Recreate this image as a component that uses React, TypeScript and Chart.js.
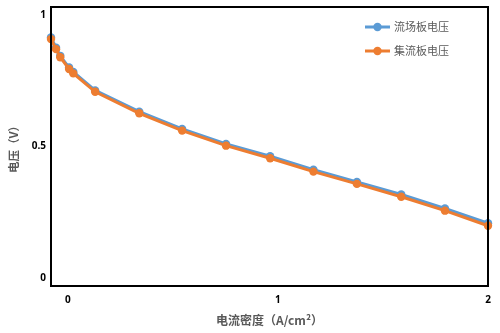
import React, { useEffect, useRef } from "react";
import { Chart, registerables } from "chart.js";

Chart.register(...registerables);

const xValues = [-0.08, -0.056, -0.036, 0.006, 0.026, 0.13, 0.34, 0.544, 0.753, 0.963, 1.169, 1.376, 1.587, 1.795, 2.0];
const flowFieldVoltage = [0.891, 0.854, 0.825, 0.783, 0.767, 0.701, 0.625, 0.563, 0.509, 0.465, 0.417, 0.373, 0.328, 0.278, 0.225];
const collectorVoltage = [0.885, 0.849, 0.82, 0.778, 0.762, 0.696, 0.619, 0.557, 0.503, 0.458, 0.41, 0.366, 0.32, 0.27, 0.216];
const seriesNames = ["流场板电压", "集流板电压"];
const seriesColors = ["#5B9BD5", "#ED7D31"];
const xTicks = [0, 1, 2];
const yTicks = [0, 0.5, 1];
const xTitle = "电流密度（A/cm²）";
const yTitle = "电压（V）";

const cjk = '"Noto Sans CJK SC", "Open Sans", sans-serif';

const framePlugin = {
  id: "frameAndLegend",
  afterDraw(chart: any) {
    const { ctx, chartArea } = chart;
    ctx.save();
    ctx.strokeStyle = "#000";
    ctx.lineWidth = 2;
    ctx.strokeRect(chartArea.left, chartArea.top, chartArea.right - chartArea.left, chartArea.bottom - chartArea.top);
    // legend
    const lx = 365;
    const rows = [27, 51];
    seriesNames.forEach((name, i) => {
      const y = rows[i];
      ctx.strokeStyle = seriesColors[i];
      ctx.lineWidth = 3;
      ctx.beginPath();
      ctx.moveTo(lx, y);
      ctx.lineTo(lx + 25, y);
      ctx.stroke();
      ctx.fillStyle = seriesColors[i];
      ctx.beginPath();
      ctx.arc(lx + 12.5, y, 4.2, 0, Math.PI * 2);
      ctx.fill();
      ctx.fillStyle = "#595959";
      ctx.font = `11px ${cjk}`;
      ctx.textBaseline = "middle";
      ctx.textAlign = "left";
      ctx.fillText(name, lx + 29, y);
    });
    ctx.restore();
  },
};

export default function App() {
  const ref = useRef<HTMLCanvasElement | null>(null);
  useEffect(() => {
    if (!ref.current) return;
    const mk = (vals: number[]) => xValues.map((x, i) => ({ x, y: vals[i] }));
    const chart = new Chart(ref.current, {
      type: "line",
      data: {
        datasets: [
          {
            label: seriesNames[0],
            data: mk(flowFieldVoltage),
            borderColor: seriesColors[0],
            backgroundColor: seriesColors[0],
            borderWidth: 3,
            pointRadius: 4.2,
            pointBorderWidth: 0,
            order: 1,
            clip: false as any,
          },
          {
            label: seriesNames[1],
            data: mk(collectorVoltage),
            borderColor: seriesColors[1],
            backgroundColor: seriesColors[1],
            borderWidth: 3,
            pointRadius: 4.2,
            pointBorderWidth: 0,
            order: 0,
            clip: false as any,
          },
        ],
      },
      options: {
        animation: false,
        responsive: true,
        maintainAspectRatio: false,
        layout: { padding: { left: 7, top: 7, right: 12, bottom: 5 } },
        plugins: { legend: { display: false }, tooltip: { enabled: false } },
        scales: {
          x: {
            type: "linear",
            min: -0.08,
            max: 2.0,
            grid: { display: false, drawTicks: false },
            border: { display: false },
            afterBuildTicks: (s: any) => {
              s.ticks = xTicks.map((v) => ({ value: v }));
            },
            afterFit: (s: any) => {
              s.height = 333 - 286 - 5;
              s.paddingLeft = 0;
              s.paddingRight = 0;
            },
            ticks: {
              color: "#000",
              padding: 8,
              font: { family: '"Open Sans", sans-serif', size: 10, weight: "bold" },
              maxRotation: 0,
              callback: (v: any) => String(v),
            },
            title: {
              display: true,
              text: xTitle,
              color: "#595959",
              font: { family: cjk, size: 12, weight: "bold" },
              padding: { top: 4, bottom: 0 },
            },
          },
          y: {
            type: "linear",
            min: 0,
            max: 1,
            grid: { display: false, drawTicks: false },
            border: { display: false },
            afterBuildTicks: (s: any) => {
              s.ticks = yTicks.map((v) => ({ value: v }));
            },
            afterFit: (s: any) => {
              s.width = 51 - 7;
              s.paddingTop = 0;
              s.paddingBottom = 0;
            },
            ticks: {
              color: "#000",
              padding: 5,
              font: { family: '"Open Sans", sans-serif', size: 10, weight: "bold", lineHeight: 1.6 },
              callback: (v: any) => {
                const t = String(v);
                if (v === 1) return ["", t];
                if (v === 0) return [t, ""];
                return t;
              },
            },
            title: {
              display: true,
              text: yTitle,
              color: "#595959",
              font: { family: cjk, size: 11.5, weight: "bold" },
              padding: { top: 0, bottom: 0 },
            },
          },
        },
      },
      plugins: [framePlugin],
    } as any);
    return () => chart.destroy();
  }, []);
  return (
    <div style={{ position: "absolute", left: 0, top: 0, width: 500, height: 333, background: "#fff" }}>
      <canvas ref={ref} />
    </div>
  );
}
